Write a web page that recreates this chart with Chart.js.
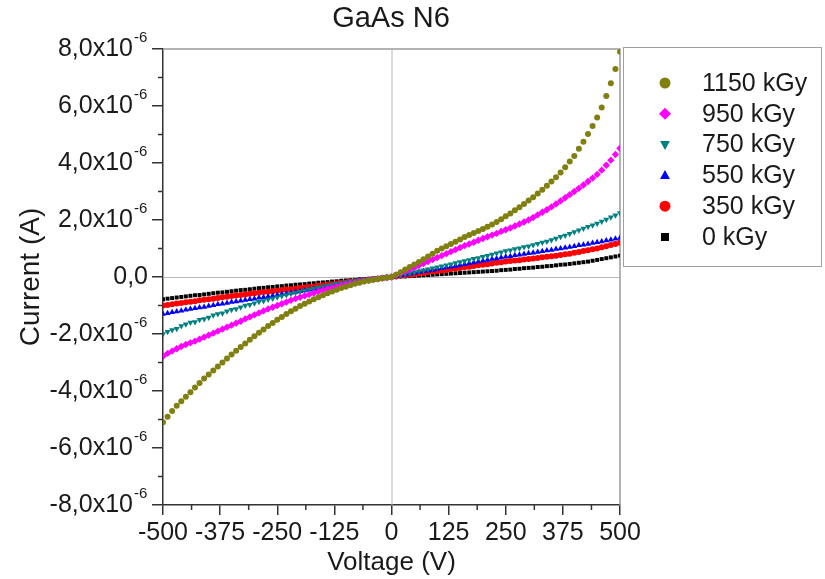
<!DOCTYPE html>
<html>
<head>
<meta charset="utf-8">
<script src="https://cdn.jsdelivr.net/npm/chart.js"></script>
<style>
  html, body { margin: 0; padding: 0; background: #fff; }
  canvas { display: block; }
</style>
</head>
<body>
<canvas id="ivChart" width="825" height="579"></canvas>
<script>
// voltage sweep (V)
const voltage = [
  -500, -490, -480, -470, -460, -450, -440, -430, -420, -410,
  -400, -390, -380, -370, -360, -350, -340, -330, -320, -310,
  -300, -290, -280, -270, -260, -250, -240, -230, -220, -210,
  -200, -190, -180, -170, -160, -150, -140, -130, -120, -110,
  -100, -90, -80, -70, -60, -50, -40, -30, -20, -10,
  0,
  10, 20, 30, 40, 50, 60, 70, 80, 90, 100,
  110, 120, 130, 140, 150, 160, 170, 180, 190, 200,
  210, 220, 230, 240, 250, 260, 270, 280, 290, 300,
  310, 320, 330, 340, 350, 360, 370, 380, 390, 400,
  410, 420, 430, 440, 450, 460, 470, 480, 490, 500
];

// current in units of 1e-6 A
const dose1150 = [
  -5.1, -4.9, -4.7, -4.52, -4.36, -4.2, -4.04, -3.88, -3.72, -3.56,
  -3.42, -3.28, -3.14, -3.0, -2.86, -2.72, -2.59, -2.46, -2.33, -2.2,
  -2.08, -1.96, -1.84, -1.72, -1.61, -1.5, -1.4, -1.3, -1.2, -1.11,
  -1.02, -0.94, -0.86, -0.78, -0.71, -0.64, -0.57, -0.51, -0.45, -0.39,
  -0.34, -0.29, -0.24, -0.2, -0.16, -0.13, -0.1, -0.07, -0.04, -0.02,
  0,
  0.08, 0.17, 0.26, 0.35, 0.44, 0.53, 0.62, 0.72, 0.82, 0.92,
  1.0, 1.08, 1.16, 1.24, 1.32, 1.4, 1.47, 1.54, 1.61, 1.68,
  1.76, 1.84, 1.93, 2.03, 2.13, 2.23, 2.34, 2.45, 2.56, 2.68,
  2.8, 2.93, 3.06, 3.2, 3.35, 3.5, 3.67, 3.85, 4.05, 4.25,
  4.5, 4.75, 5.02, 5.3, 5.6, 5.95, 6.35, 6.8, 7.3, 7.9
];
const dose950 = [
  -2.78, -2.68, -2.6, -2.52, -2.44, -2.37, -2.31, -2.25, -2.18, -2.11,
  -2.04, -1.97, -1.9, -1.83, -1.76, -1.69, -1.62, -1.55, -1.47, -1.4,
  -1.33, -1.26, -1.19, -1.12, -1.06, -1.0, -0.94, -0.88, -0.82, -0.76,
  -0.71, -0.66, -0.61, -0.56, -0.51, -0.46, -0.42, -0.38, -0.34, -0.3,
  -0.26, -0.23, -0.2, -0.17, -0.14, -0.11, -0.09, -0.06, -0.04, -0.02,
  0,
  0.07, 0.13, 0.2, 0.26, 0.33, 0.4, 0.47, 0.54, 0.61, 0.68,
  0.75, 0.82, 0.89, 0.96, 1.03, 1.1, 1.16, 1.22, 1.29, 1.35,
  1.41, 1.47, 1.53, 1.6, 1.66, 1.72, 1.79, 1.86, 1.93, 2.0,
  2.09, 2.18, 2.27, 2.36, 2.46, 2.56, 2.67, 2.78, 2.89, 3.0,
  3.11, 3.23, 3.35, 3.47, 3.6, 3.75, 3.92, 4.1, 4.3, 4.52
];
const dose750 = [
  -2.0, -1.92, -1.86, -1.82, -1.72, -1.66, -1.6, -1.58, -1.5, -1.47,
  -1.42, -1.34, -1.3, -1.27, -1.2, -1.15, -1.12, -1.06, -1.0, -0.97,
  -0.92, -0.87, -0.84, -0.79, -0.75, -0.71, -0.67, -0.63, -0.59, -0.55,
  -0.51, -0.47, -0.43, -0.4, -0.36, -0.33, -0.3, -0.27, -0.24, -0.21,
  -0.18, -0.16, -0.13, -0.11, -0.09, -0.07, -0.05, -0.04, -0.02, -0.01,
  0,
  0.03, 0.06, 0.1, 0.13, 0.17, 0.2, 0.24, 0.27, 0.31, 0.34,
  0.38, 0.41, 0.45, 0.49, 0.53, 0.56, 0.6, 0.64, 0.67, 0.71,
  0.75, 0.79, 0.83, 0.87, 0.91, 0.94, 0.98, 1.01, 1.05, 1.08,
  1.12, 1.17, 1.21, 1.25, 1.3, 1.35, 1.41, 1.46, 1.52, 1.58,
  1.64, 1.7, 1.76, 1.82, 1.88, 1.95, 2.02, 2.1, 2.17, 2.25
];
const dose550 = [
  -1.3, -1.27, -1.24, -1.21, -1.18, -1.15, -1.12, -1.1, -1.07, -1.05,
  -1.02, -0.99, -0.96, -0.94, -0.91, -0.88, -0.86, -0.83, -0.81, -0.78,
  -0.76, -0.73, -0.71, -0.68, -0.66, -0.63, -0.6, -0.58, -0.55, -0.53,
  -0.5, -0.47, -0.45, -0.42, -0.4, -0.37, -0.35, -0.32, -0.3, -0.27,
  -0.25, -0.22, -0.2, -0.17, -0.15, -0.12, -0.1, -0.07, -0.05, -0.02,
  0,
  0.03, 0.06, 0.08, 0.11, 0.14, 0.17, 0.2, 0.22, 0.25, 0.28,
  0.31, 0.34, 0.36, 0.39, 0.42, 0.45, 0.48, 0.51, 0.54, 0.57,
  0.6, 0.63, 0.65, 0.68, 0.71, 0.73, 0.76, 0.78, 0.81, 0.83,
  0.85, 0.88, 0.9, 0.93, 0.95, 0.98, 1.0, 1.03, 1.05, 1.08,
  1.11, 1.13, 1.16, 1.19, 1.22, 1.25, 1.28, 1.31, 1.34, 1.37
];
const dose350 = [
  -1.0, -0.98, -0.96, -0.93, -0.91, -0.89, -0.87, -0.85, -0.82, -0.8,
  -0.78, -0.76, -0.74, -0.71, -0.69, -0.67, -0.65, -0.63, -0.61, -0.59,
  -0.57, -0.55, -0.53, -0.52, -0.5, -0.48, -0.46, -0.44, -0.43, -0.41,
  -0.39, -0.37, -0.35, -0.33, -0.31, -0.29, -0.27, -0.25, -0.23, -0.21,
  -0.19, -0.17, -0.15, -0.13, -0.11, -0.1, -0.08, -0.06, -0.04, -0.02,
  0,
  0.02, 0.04, 0.06, 0.08, 0.1, 0.12, 0.14, 0.17, 0.19, 0.21,
  0.23, 0.25, 0.28, 0.3, 0.32, 0.34, 0.36, 0.39, 0.41, 0.43,
  0.45, 0.47, 0.5, 0.52, 0.54, 0.56, 0.58, 0.59, 0.61, 0.63,
  0.65, 0.67, 0.69, 0.71, 0.73, 0.75, 0.77, 0.8, 0.82, 0.85,
  0.88, 0.91, 0.94, 0.97, 1.0, 1.04, 1.08, 1.12, 1.16, 1.2
];
const dose0 = [
  -0.78, -0.76, -0.74, -0.72, -0.7, -0.68, -0.66, -0.64, -0.63, -0.61,
  -0.59, -0.57, -0.55, -0.54, -0.52, -0.5, -0.48, -0.46, -0.45, -0.43,
  -0.41, -0.39, -0.38, -0.36, -0.35, -0.33, -0.32, -0.3, -0.29, -0.27,
  -0.26, -0.25, -0.23, -0.22, -0.2, -0.19, -0.18, -0.16, -0.15, -0.13,
  -0.12, -0.11, -0.1, -0.08, -0.07, -0.06, -0.05, -0.04, -0.02, -0.01,
  0,
  0.01, 0.02, 0.02, 0.03, 0.04, 0.05, 0.06, 0.07, 0.08, 0.09,
  0.1, 0.11, 0.12, 0.13, 0.14, 0.15, 0.16, 0.17, 0.18, 0.19,
  0.2, 0.21, 0.22, 0.24, 0.25, 0.26, 0.28, 0.29, 0.31, 0.32,
  0.33, 0.35, 0.36, 0.38, 0.39, 0.41, 0.43, 0.44, 0.46, 0.48,
  0.5, 0.52, 0.54, 0.57, 0.6, 0.63, 0.66, 0.69, 0.72, 0.75
];

const seriesLabels = ["1150 kGy", "950 kGy", "750 kGy", "550 kGy", "350 kGy", "0 kGy"];
const xMinorTicks = [-437.5, -312.5, -187.5, -62.5, 62.5, 187.5, 312.5, 437.5];
const yTicks = [8, 6, 4, 2, 0, -2, -4, -6, -8];
const yTickLabels = ["8,0x10", "6,0x10", "4,0x10", "2,0x10", "0,0", "-2,0x10", "-4,0x10", "-6,0x10", "-8,0x10"];
const yMinorTicks = [7, 5, 3, 1, -1, -3, -5, -7];

const FONT = '"Liberation Sans", Arial, sans-serif';
const TEXT = "#1a1a1a";

const styles = [
  { color: "#808010", shape: "circle", r: 3.0 },
  { color: "#ff00ff", shape: "rectRot", r: 3.7 },
  { color: "#008080", shape: "down", r: 3.5 },
  { color: "#0000ff", shape: "triangle", r: 3.5 },
  { color: "#ff0000", shape: "circle", r: 3.0 },
  { color: "#000000", shape: "rect", r: 2.8 }
];
const allSeries = [dose1150, dose950, dose750, dose550, dose350, dose0];

const toPoints = (vals) => vals.map((v, i) => ({ x: voltage[i], y: v }));

const datasets = allSeries.map((vals, i) => ({
  label: seriesLabels[i],
  data: toPoints(vals),
  showLine: false,
  backgroundColor: styles[i].color,
  borderColor: styles[i].color,
  borderWidth: 0,
  pointStyle: styles[i].shape === "down" ? "triangle" : styles[i].shape,
  rotation: styles[i].shape === "down" ? 180 : 0,
  pointRadius: styles[i].r
}));

function drawMarker(ctx, shape, x, y, r, color) {
  ctx.fillStyle = color;
  ctx.beginPath();
  if (shape === "circle") {
    ctx.arc(x, y, r, 0, Math.PI * 2);
  } else if (shape === "rectRot") {
    ctx.moveTo(x, y - r); ctx.lineTo(x + r, y); ctx.lineTo(x, y + r); ctx.lineTo(x - r, y);
  } else if (shape === "triangle") {
    ctx.moveTo(x, y - r); ctx.lineTo(x + r * 0.9, y + r * 0.65); ctx.lineTo(x - r * 0.9, y + r * 0.65);
  } else if (shape === "down") {
    ctx.moveTo(x, y + r); ctx.lineTo(x + r * 0.9, y - r * 0.65); ctx.lineTo(x - r * 0.9, y - r * 0.65);
  } else {
    ctx.rect(x - r, y - r, r * 2, r * 2);
  }
  ctx.closePath();
  ctx.fill();
}

const framePlugin = {
  id: "frame",
  beforeDatasetsDraw(chart) {
    const { ctx, chartArea: a, scales } = chart;
    const y0 = scales.y.getPixelForValue(0);
    const x0 = scales.x.getPixelForValue(0);
    ctx.save();
    ctx.strokeStyle = "#b8b8b8";
    ctx.lineWidth = 1;
    ctx.beginPath();
    ctx.moveTo(a.left, y0 + 0.5); ctx.lineTo(a.right, y0 + 0.5);
    ctx.moveTo(x0 + 0.5, a.top); ctx.lineTo(x0 + 0.5, a.bottom);
    ctx.stroke();
    ctx.strokeStyle = "#9a9a9a";
    ctx.lineWidth = 1.5;
    ctx.beginPath();
    ctx.moveTo(a.left, a.top); ctx.lineTo(a.right, a.top); ctx.lineTo(a.right, a.bottom);
    ctx.stroke();
    ctx.restore();
  },
  afterDraw(chart) {
    const { ctx, chartArea: a, scales } = chart;
    ctx.save();
    // minor ticks
    ctx.strokeStyle = "#333";
    ctx.lineWidth = 1.5;
    ctx.beginPath();
    xMinorTicks.forEach((v) => {
      const px = scales.x.getPixelForValue(v);
      ctx.moveTo(px, a.bottom); ctx.lineTo(px, a.bottom + 5);
    });
    yMinorTicks.forEach((v) => {
      const py = scales.y.getPixelForValue(v);
      ctx.moveTo(a.left, py); ctx.lineTo(a.left - 5, py);
    });
    ctx.stroke();

    // y tick labels with exponent
    ctx.fillStyle = TEXT;
    ctx.textBaseline = "middle";
    yTicks.forEach((v, i) => {
      const py = scales.y.getPixelForValue(v);
      if (v === 0) {
        ctx.font = "25px " + FONT;
        ctx.textAlign = "right";
        ctx.fillText(yTickLabels[i], a.left - 15, py);
        return;
      }
      ctx.font = "25px " + FONT;
      ctx.textAlign = "right";
      ctx.fillText(yTickLabels[i], a.left - 30, py);
      ctx.font = "15px " + FONT;
      ctx.textAlign = "left";
      ctx.fillText("-6", a.left - 29, py - 11);
    });

    // title
    ctx.font = "29px " + FONT;
    ctx.textAlign = "center";
    ctx.fillText("GaAs N6", 391, 19);

    // legend
    ctx.strokeStyle = "#a0a0a0";
    ctx.lineWidth = 1;
    ctx.strokeRect(623.5, 47.5, 198, 219);
    ctx.font = "25px " + FONT;
    ctx.textAlign = "left";
    seriesLabels.forEach((lab, i) => {
      const ly = 83 + i * 30.8;
      const st = styles[i];
      const r = st.shape === "rect" ? 4 : st.shape === "rectRot" ? 6 : 5.5;
      drawMarker(ctx, st.shape, 665, ly, r, st.color);
      ctx.fillStyle = TEXT;
      ctx.fillText(lab, 702, ly + 1);
    });
    ctx.restore();
  }
};

new Chart(document.getElementById("ivChart"), {
  type: "scatter",
  data: { datasets },
  options: {
    responsive: false,
    devicePixelRatio: 1,
    animation: false,
    layout: { padding: { left: 0, top: 49, right: 205, bottom: 0 } },
    plugins: { legend: { display: false }, tooltip: { enabled: false }, title: { display: false } },
    scales: {
      x: {
        type: "linear",
        min: -500,
        max: 500,
        afterFit: (s) => { s.height = 74; },
        border: { display: true, color: "#333", width: 1.5 },
        grid: { drawOnChartArea: false, drawTicks: true, tickLength: 10, color: "#333", lineWidth: 1.5 },
        ticks: { stepSize: 125, autoSkip: false, maxRotation: 0, padding: 3, color: TEXT, font: { family: FONT, size: 25 } },
        title: { display: true, text: "Voltage (V)", color: TEXT, font: { family: FONT, size: 26 }, padding: { top: 0, bottom: 1 } }
      },
      y: {
        type: "linear",
        min: -8,
        max: 8,
        afterFit: (s) => { s.width = 163; },
        border: { display: true, color: "#333", width: 1.5 },
        grid: { drawOnChartArea: false, drawTicks: true, tickLength: 11, color: "#333", lineWidth: 1.5 },
        ticks: { stepSize: 2, display: false },
        title: { display: true, text: "Current (A)", color: TEXT, font: { family: FONT, size: 28 }, padding: { top: 14, bottom: 0 } }
      }
    }
  },
  plugins: [framePlugin]
});
</script>
</body>
</html>
